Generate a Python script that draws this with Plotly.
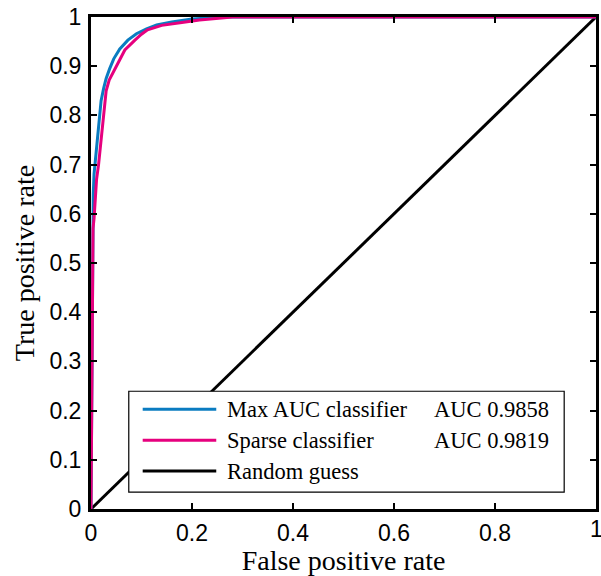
import plotly.graph_objects as go

# ---- data ----
fpr_max = [0.0, 0.0025, 0.003, 0.004, 0.0045, 0.006, 0.009, 0.012, 0.016, 0.020, 0.025, 0.030,
           0.037, 0.045, 0.057, 0.073, 0.090, 0.110, 0.130, 0.160, 0.200, 0.270, 1.0]
tpr_max = [0.0, 0.46, 0.50, 0.60, 0.64, 0.68, 0.71, 0.75, 0.79, 0.83, 0.855, 0.875,
           0.895, 0.915, 0.935, 0.953, 0.966, 0.976, 0.984, 0.990, 0.996, 1.0, 1.0]

fpr_sparse = [0.0, 0.0026, 0.004, 0.006, 0.008, 0.011, 0.015, 0.019, 0.022, 0.026, 0.030, 0.036,
              0.047, 0.057, 0.067, 0.087, 0.100, 0.112, 0.140, 0.180, 0.215, 0.280, 1.0]
tpr_sparse = [0.0, 0.55, 0.57, 0.59, 0.63, 0.67, 0.70, 0.74, 0.78, 0.82, 0.85, 0.872,
              0.893, 0.915, 0.933, 0.953, 0.965, 0.974, 0.983, 0.989, 0.994, 1.0, 1.0]

random_x = [0.0, 1.0]
random_y = [0.0, 1.0]

series_names = ["Max AUC classifier", "Sparse classifier", "Random guess"]
series_auc = ["AUC 0.9858", "AUC 0.9819", ""]
series_colors = ["#0a7cc1", "#e6007e", "#000000"]

tick_vals = [0, 0.1, 0.2, 0.3, 0.4, 0.5, 0.6, 0.7, 0.8, 0.9, 1]
tick_text = ["0", "0.1", "0.2", "0.3", "0.4", "0.5", "0.6", "0.7", "0.8", "0.9", "1"]
xtick_vals = [0, 0.2, 0.4, 0.6, 0.8, 1]
xtick_text = ["0", "0.2", "0.4", "0.6", "0.8", "1"]

fig = go.Figure()
fig.add_trace(go.Scatter(x=random_x, y=random_y, mode="lines",
                         line=dict(color=series_colors[2], width=3),
                         name=series_names[2], showlegend=False, cliponaxis=False))
fig.add_trace(go.Scatter(x=fpr_max, y=tpr_max, mode="lines",
                         line=dict(color=series_colors[0], width=3),
                         name=series_names[0], showlegend=False))
fig.add_trace(go.Scatter(x=fpr_sparse, y=tpr_sparse, mode="lines",
                         line=dict(color=series_colors[1], width=3),
                         name=series_names[1], showlegend=False))

L, R, T, B = 91, 2, 17, 66
W, H = 601, 576
pw, ph = W - L - R, H - T - B

def px(x):
    return (x - L) / pw

def py(y):
    return (H - B - y) / ph

TICK_FONT = dict(family="Liberation Sans", size=23, color="black")
LEG_FONT = dict(family="Liberation Serif", size=22.5, color="black")
TITLE_FONT = dict(family="Liberation Serif", size=28, color="black")

shapes = []
annotations = []
# legend box
shapes.append(dict(type="rect", xref="paper", yref="paper",
                   x0=px(129), x1=px(567), y0=py(493), y1=py(392),
                   fillcolor="white", line=dict(color="black", width=1.2), layer="above"))
row_y = [410, 441, 472]
for i, name in enumerate(series_names):
    yy = py(row_y[i])
    shapes.append(dict(type="line", xref="paper", yref="paper",
                       x0=px(143), x1=px(217), y0=yy, y1=yy,
                       line=dict(color=series_colors[i], width=3), layer="above"))
    annotations.append(dict(x=px(226), y=yy, xref="paper", yref="paper",
                            text=name, showarrow=False, xanchor="left", yanchor="middle",
                            font=LEG_FONT))
    if series_auc[i]:
        annotations.append(dict(x=px(434), y=yy, xref="paper", yref="paper",
                                text=series_auc[i], showarrow=False, xanchor="left", yanchor="middle",
                                font=LEG_FONT))

# last x tick label (partially outside the page in the original)
annotations.append(dict(x=xtick_vals[-1], y=py(530), xref="x", yref="paper",
                        text=xtick_text[-1], showarrow=False, xanchor="center", yanchor="middle",
                        font=TICK_FONT))

axis_common = dict(range=[0, 1], showgrid=False, zeroline=False, showline=True,
                   linecolor="black", linewidth=3, mirror="ticks", ticks="inside",
                   ticklen=6, tickwidth=2, tickcolor="black",
                   tickfont=TICK_FONT)

fig.update_layout(
    width=W, height=H,
    margin=dict(l=L, r=R, t=T, b=B),
    paper_bgcolor="white", plot_bgcolor="white",
    showlegend=False,
    shapes=shapes, annotations=annotations,
    xaxis=dict(**axis_common, tickvals=xtick_vals, ticktext=xtick_text[:-1] + [""],
               ticklabelstandoff=1,
               title=dict(text="False positive rate", standoff=9, font=TITLE_FONT)),
    yaxis=dict(**axis_common, tickvals=tick_vals, ticktext=tick_text,
               ticklabelstandoff=2,
               title=dict(text="True positive rate", standoff=7, font=TITLE_FONT)),
)

fig.write_html("out.html")
